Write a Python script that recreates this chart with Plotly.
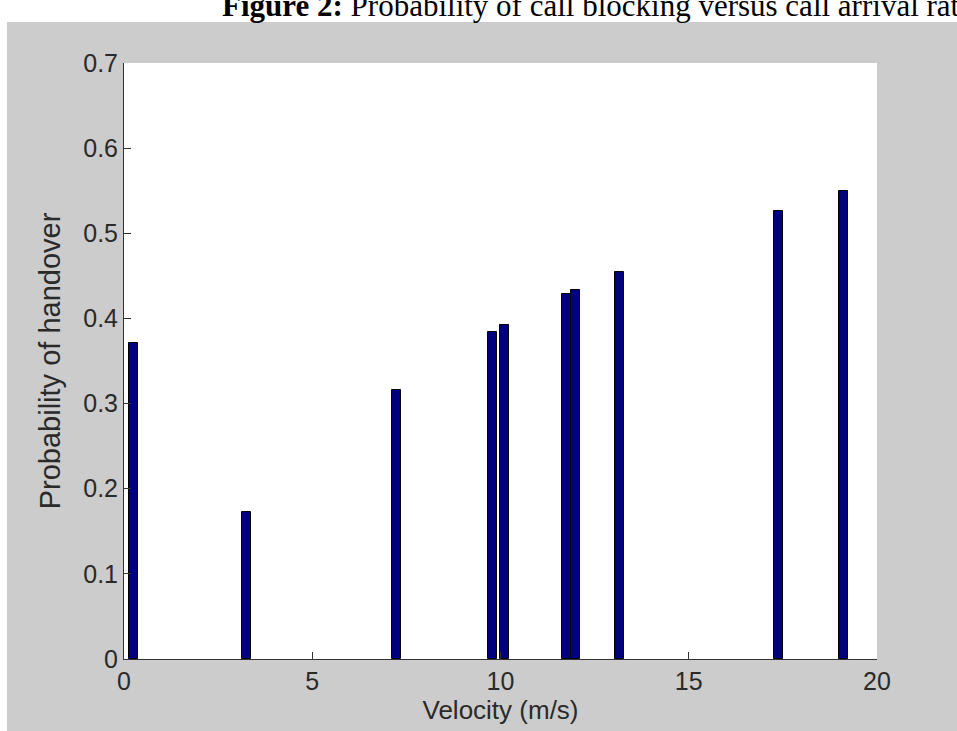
import plotly.graph_objects as go

velocity = [0.24, 3.26, 7.23, 9.79, 10.11, 11.76, 12.0, 13.15, 17.38, 19.11]
prob_handover = [0.371, 0.173, 0.316, 0.384, 0.392, 0.429, 0.433, 0.455, 0.526, 0.550]
x_ticks = [0, 5, 10, 15, 20]
y_ticks = [0, 0.1, 0.2, 0.3, 0.4, 0.5, 0.6, 0.7]

W, H = 957, 731
L, R, T, B = 124, 80, 63, 72
pw, ph = W - L - R, H - T - B

fig = go.Figure()
fig.add_trace(go.Bar(
    x=velocity, y=prob_handover, width=0.24,
    marker=dict(color="#00007F", line=dict(color="#000000", width=1)),
    showlegend=False,
))

txt_color = "#2a2a2a"
font_family = "Liberation Sans, Arial, sans-serif"

fig.update_layout(
    width=W, height=H,
    margin=dict(l=L, r=R, t=T, b=B, pad=0),
    paper_bgcolor="#CCCCCC",
    plot_bgcolor="#FFFFFF",
    font=dict(family=font_family, size=25, color=txt_color),
    xaxis=dict(
        range=[0, 20], tickvals=x_ticks, ticks="inside", ticklen=7,
        tickcolor="#333333", showline=True, linecolor="#333333", linewidth=1,
        showgrid=False, zeroline=False,
        title=dict(text="Velocity (m/s)", standoff=4, font=dict(size=26)),
        tickfont=dict(size=25),
    ),
    yaxis=dict(
        range=[0, 0.7], tickvals=y_ticks, ticks="inside", ticklen=7,
        tickcolor="#333333", showline=True, linecolor="#333333", linewidth=1,
        showgrid=False, zeroline=False,
        title=dict(text="Probability of handover", standoff=14, font=dict(size=29)),
        tickfont=dict(size=25),
    ),
    shapes=[
        dict(type="rect", xref="paper", yref="paper",
             x0=-1, x1=2, y0=(ph + T - 22) / ph, y1=3,
             fillcolor="#FFFFFF", line=dict(width=0), layer="below"),
        dict(type="rect", xref="paper", yref="paper",
             x0=-1, x1=(7 - L) / pw, y0=-1, y1=3,
             fillcolor="#FFFFFF", line=dict(width=0), layer="below"),
    ],
    annotations=[
        dict(text="<b>Figure 2:</b> Probability of call blocking versus call arrival rate",
             xref="paper", yref="paper", x=(220 - L) / pw, y=(ph + T - 25) / ph,
             xanchor="left", yanchor="bottom", showarrow=False,
             font=dict(family="Liberation Serif, Times New Roman, serif", size=31, color="#000000")),
    ],
    bargap=0,
)

fig.write_html("out.html")
